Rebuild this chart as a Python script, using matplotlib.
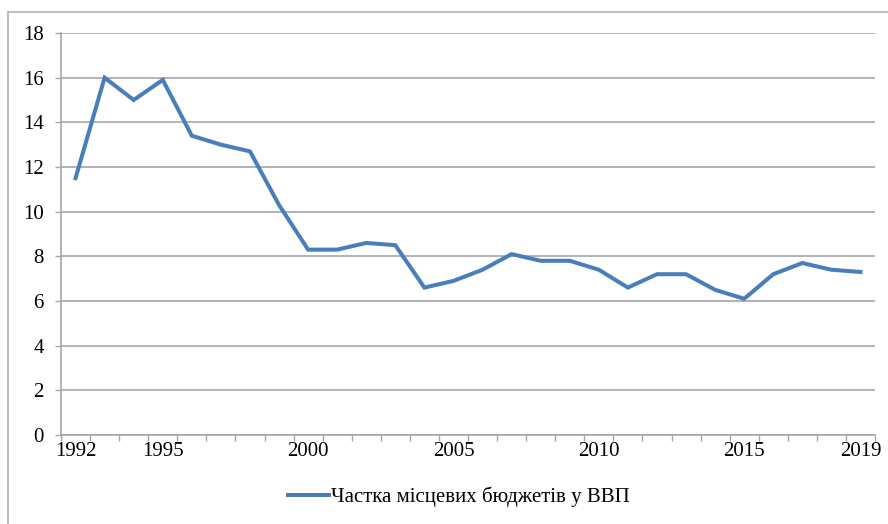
import numpy as np
import matplotlib.pyplot as plt
from matplotlib.lines import Line2D

years = list(range(1992, 2020))
share = [11.5, 16.0, 15.0, 15.9, 13.4, 13.0, 12.7, 10.3, 8.3, 8.3,
         8.6, 8.5, 6.6, 6.9, 7.4, 8.1, 7.8, 7.8, 7.4, 6.6,
         7.2, 7.2, 6.5, 6.1, 7.2, 7.7, 7.4, 7.3]
shown_years = [1992, 1995, 2000, 2005, 2010, 2015, 2019]
series_label = "Частка місцевих бюджетів у ВВП"

plt.rcParams["font.family"] = "serif"
plt.rcParams["font.serif"] = ["Liberation Serif", "DejaVu Serif"]
plt.rcParams["font.size"] = 15

GRID = "#a6a6a6"
LINE = "#4a7ebb"

fig = plt.figure(figsize=(8.88, 5.24), dpi=100)
ax = fig.add_axes([61 / 888, 1 - 435 / 524, (875 - 61) / 888, (435 - 33) / 524])

x = np.arange(len(years))
ax.plot(x, share, color=LINE, lw=2.9, solid_joinstyle="miter", label=series_label)

ax.set_xlim(-0.5, len(years) - 0.5)
ax.set_ylim(0, 18)
ax.set_yticks(range(0, 19, 2))
ax.yaxis.grid(True, color=GRID, lw=1.2)
ax.set_axisbelow(True)

# tick marks between categories, labels at category centres
ax.set_xticks(np.arange(-0.5, len(years), 1.0))
ax.set_xticklabels([])
ax.set_xticks([years.index(y) for y in shown_years], minor=True)
ax.set_xticklabels([str(y) for y in shown_years], minor=True)
ax.tick_params(axis="x", which="major", direction="out", length=4, width=1, color=GRID)
ax.tick_params(axis="x", which="minor", length=0, pad=5)
ax.tick_params(axis="y", direction="out", length=4.5, width=1, color=GRID, pad=8)

for side in ["top", "right"]:
    ax.spines[side].set_visible(False)
for side in ["left", "bottom"]:
    ax.spines[side].set_color(GRID)
    ax.spines[side].set_linewidth(1.2)

ax.legend(loc="center", bbox_to_anchor=(459 / 888, 1 - 497 / 524),
          bbox_transform=fig.transFigure, frameon=False, handlelength=1.95,
          handletextpad=0.12, fontsize=15)

# outer chart border (top and left edges visible)
fig.add_artist(Line2D([8 / 888, 8 / 888], [0, 1 - 11.5 / 524], color="#b0b0b0", lw=1.2,
                      transform=fig.transFigure))
fig.add_artist(Line2D([8 / 888, 1], [1 - 11.5 / 524, 1 - 11.5 / 524], color="#b0b0b0", lw=1.2,
                      transform=fig.transFigure))

fig.savefig("out.png", dpi=100)
